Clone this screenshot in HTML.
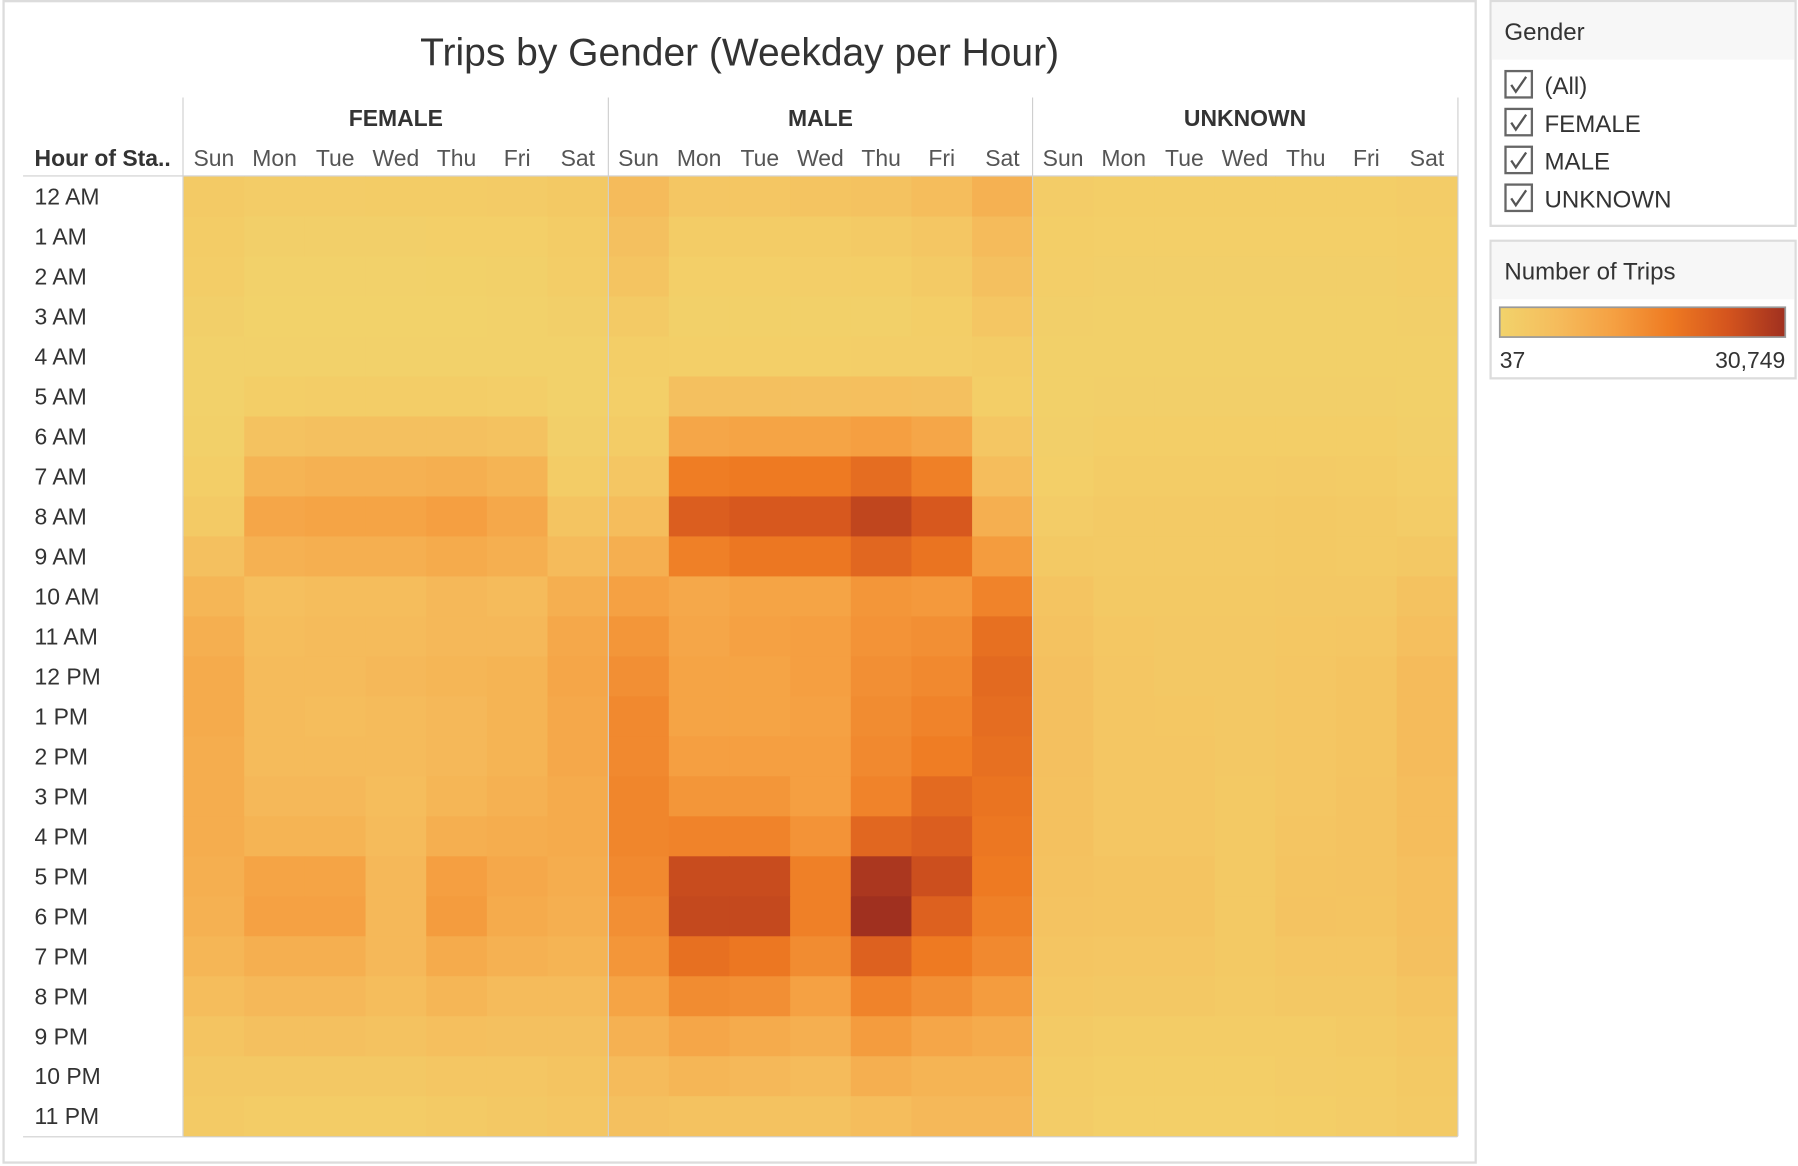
<!DOCTYPE html>
<html><head><meta charset="utf-8"><style>
html,body{margin:0;padding:0;background:#fff;}
svg{display:block;font-family:"Liberation Sans",sans-serif;}
</style></head><body>
<svg id="chart" width="1798" height="1166" viewBox="0 0 1568 1017" xmlns="http://www.w3.org/2000/svg">
<rect x="0" y="0" width="1568" height="1017" fill="#fff"/>
<rect x="3" y="1" width="1284" height="1013" fill="#fff" stroke="#dcdcdc" stroke-width="2"/>
<text x="645" y="57" text-anchor="middle" font-size="34" fill="#333">Trips by Gender (Weekday per Hour)</text>
<text x="30" y="145" font-size="20" font-weight="bold" fill="#333">Hour of Sta..</text>
<g id="cells"></g>
<g id="labels"></g>
<line x1="20" y1="153.5" x2="1271" y2="153.5" stroke="#cfcfcf"/>
<line x1="20" y1="991.5" x2="1271" y2="991.5" stroke="#cfcfcf"/>
<line x1="159.5" y1="85" x2="159.5" y2="991" stroke="#cfcfcf"/>
<line x1="530.5" y1="85" x2="530.5" y2="991" stroke="#cfcfcf"/>
<line x1="900.5" y1="85" x2="900.5" y2="991" stroke="#cfcfcf"/>
<line x1="1271.5" y1="85" x2="1271.5" y2="991" stroke="#cfcfcf"/>

<g>
<rect x="1300" y="1" width="266" height="196" fill="#fff" stroke="#dcdcdc" stroke-width="2"/>
<rect x="1301" y="2" width="264" height="50" fill="#f7f7f7"/>
<text x="1312" y="35" font-size="21" fill="#333">Gender</text>
<g><rect x="1313" y="62" width="23" height="23" fill="#fff" stroke="#666" stroke-width="2"/><path d="M1318 74 l4 6 l9 -13" fill="none" stroke="#555" stroke-width="2"/><text x="1347" y="82" font-size="21" fill="#333">(All)</text></g>
<g><rect x="1313" y="95" width="23" height="23" fill="#fff" stroke="#666" stroke-width="2"/><path d="M1318 107 l4 6 l9 -13" fill="none" stroke="#555" stroke-width="2"/><text x="1347" y="115" font-size="21" fill="#333">FEMALE</text></g>
<g><rect x="1313" y="128" width="23" height="23" fill="#fff" stroke="#666" stroke-width="2"/><path d="M1318 140 l4 6 l9 -13" fill="none" stroke="#555" stroke-width="2"/><text x="1347" y="148" font-size="21" fill="#333">MALE</text></g>
<g><rect x="1313" y="161" width="23" height="23" fill="#fff" stroke="#666" stroke-width="2"/><path d="M1318 173 l4 6 l9 -13" fill="none" stroke="#555" stroke-width="2"/><text x="1347" y="181" font-size="21" fill="#333">UNKNOWN</text></g>
</g>

<g>
<defs><linearGradient id="grad" x1="0" x2="1" y1="0" y2="0">
<stop offset="0" stop-color="#f2d36b"/><stop offset="0.2" stop-color="#f5bc5c"/><stop offset="0.4" stop-color="#f5a042"/><stop offset="0.6" stop-color="#ee7a22"/><stop offset="0.8" stop-color="#d4541e"/><stop offset="1" stop-color="#a0301f"/>
</linearGradient></defs>
<rect x="1300" y="210" width="266" height="120" fill="#fff" stroke="#dcdcdc" stroke-width="2"/>
<rect x="1301" y="211" width="264" height="50" fill="#f7f7f7"/>
<text x="1312" y="244" font-size="21" fill="#333">Number of Trips</text>
<rect x="1308" y="268" width="249" height="26" fill="url(#grad)" stroke="#999" stroke-width="1.5"/>
<text x="1308" y="321" font-size="20" fill="#333">37</text>
<text x="1557" y="321" font-size="20" fill="#333" text-anchor="end">30,749</text>
</g>
</svg>
<script>
const genders = ["FEMALE","MALE","UNKNOWN"];
const days = ["Sun","Mon","Tue","Wed","Thu","Fri","Sat"];
const hours = ["12 AM","1 AM","2 AM","3 AM","4 AM","5 AM","6 AM","7 AM","8 AM","9 AM","10 AM","11 AM","12 PM","1 PM","2 PM","3 PM","4 PM","5 PM","6 PM","7 PM","8 PM","9 PM","10 PM","11 PM"];
const femaleTrips = [
[2500,1800,1800,2000,2000,2200,2800],[2000,1000,1000,1000,1100,1200,2000],[1600,600,600,600,700,800,1600],[1000,400,400,400,400,500,1000],
[600,500,500,500,500,500,600],[500,1500,1600,1600,1600,1400,500],[800,4500,5000,5000,5000,4500,1000],[1500,8000,8500,8500,9000,8000,2000],
[2500,11000,11500,11500,12500,10500,4000],[5000,8500,9000,9000,10000,9000,6500],[7500,5500,6000,6000,7000,6500,9000],[9000,6000,6500,6500,7000,7000,10500],
[10000,6500,6500,7000,7500,8000,11000],[10000,6500,6000,6500,7000,8000,10500],[9500,6500,6500,6500,7000,8000,10500],[9500,7000,7000,6000,7500,8500,10000],
[9500,8000,8000,6500,9000,9500,10000],[9000,11500,11500,7000,12500,10500,9500],[8500,12000,12000,7000,13000,10000,9000],[7500,9000,9000,7000,10000,8500,8000],
[6000,7000,7000,6000,7500,6500,6500],[4000,5000,5000,4500,5500,5000,5000],[3000,3000,3000,3000,3500,3500,4000],[2500,2000,2000,2000,2500,3000,3500]];
const maleTrips = [
[6500,3500,3500,4000,4500,6000,8500],[5000,2000,2000,2000,2500,3500,6500],[4000,1200,1200,1300,1500,2500,5000],[2500,800,800,800,900,1500,3500],
[1500,1200,1200,1200,1300,1400,2000],[1200,5000,5000,5000,5500,5000,1500],[2000,11000,11500,11500,12500,11000,3500],[3500,18000,18500,18500,20500,17500,6000],
[6000,23000,24000,24000,27000,24000,9000],[9000,17500,19000,19000,21500,19500,13000],[12000,10500,11500,11500,14000,13500,17000],[14000,11000,12000,12500,14500,15000,20000],
[15000,11500,11500,12500,15000,16000,21000],[16000,11500,11500,12000,15500,17000,20500],[16000,12500,12500,12500,16000,18000,20000],[16500,14000,14000,12500,17000,21000,19500],
[16500,17000,17000,14500,21500,23000,19000],[16000,26000,26000,17500,29500,25500,18500],[15000,26500,26500,17500,30749,22500,17500],[14000,20000,19000,15500,22500,18500,16000],
[11500,15500,15000,12000,17000,15000,13000],[8500,11000,10000,9000,13000,11000,10000],[6500,7500,7000,6500,9000,8000,8000],[5000,4500,4500,4500,6000,7000,7000]];
const unknownTrips = [
[1800,1500,1500,1500,1500,1500,1800],[1500,1200,1200,1200,1200,1200,1500],[1300,1000,1000,1000,1000,1000,1300],[1000,800,800,800,800,800,1000],
[800,800,800,800,800,800,800],[800,1000,1000,1000,1000,1000,800],[1000,1500,1500,1500,1500,1500,1000],[1200,2000,2000,2000,2200,2000,1300],
[1800,2500,2500,2500,2800,2500,1800],[2800,2500,2500,2500,2800,2500,3000],[4000,2800,2800,2700,3000,3000,4500],[4500,3200,3000,3000,3300,3500,5500],
[5000,3500,3000,3000,3500,4000,6500],[5000,3500,3300,3000,3500,4000,6500],[5000,3500,3500,3000,3500,4000,6500],[4800,3500,3500,2800,3500,4200,6000],
[4800,3500,3500,2800,3800,4200,6000],[4500,4000,4000,2800,4000,4200,5500],[4200,4000,4000,2800,4200,4000,5500],[3800,3500,3500,2800,3500,3500,5000],
[3200,3000,3000,2500,3000,3000,4000],[2500,2000,2000,2000,2000,2500,3200],[2000,1500,1500,1500,1800,2000,2800],[1800,1200,1200,1200,1500,1800,2500]];
const domainMin = 37, domainMax = 30749;

const NS="http://www.w3.org/2000/svg";
const X0=160, PANEL_W=370.33, Y0=154, Y1=991;
const colW = PANEL_W/7, rowH=(Y1-Y0)/hours.length;
const stops=[[0,[242,211,107]],[0.2,[245,188,92]],[0.4,[245,160,66]],[0.6,[238,122,34]],[0.8,[212,84,30]],[1,[160,48,31]]];
function color(v){
  let t=Math.max(0,Math.min(1,(v-domainMin)/(domainMax-domainMin)));
  for(let i=1;i<stops.length;i++){
    if(t<=stops[i][0]){const a=stops[i-1],b=stops[i];const f=(t-a[0])/(b[0]-a[0]);
      return "rgb("+a[1].map((c,k)=>Math.round(c+(b[1][k]-c)*f)).join(",")+")";}
  }
  return "rgb(160,48,31)";
}
function xScale(g,d){return X0+g*PANEL_W+d*colW;}
function yScale(h){return Y0+h*rowH;}
const cells=document.getElementById("cells"), labels=document.getElementById("labels");
const series=[femaleTrips,maleTrips,unknownTrips];
series.forEach((data,g)=>{
  data.forEach((row,h)=>{
    row.forEach((v,d)=>{
      const r=document.createElementNS(NS,"rect");
      r.setAttribute("x",xScale(g,d));r.setAttribute("y",yScale(h));
      r.setAttribute("width",colW+0.5);r.setAttribute("height",rowH+0.5);
      r.setAttribute("fill",color(v));
      
      
      cells.appendChild(r);
    });
  });
});
function txt(x,y,s,size,anchor,weight,fill){
  const t=document.createElementNS(NS,"text");
  t.setAttribute("x",x);t.setAttribute("y",y);t.setAttribute("font-size",size);
  t.setAttribute("text-anchor",anchor);if(weight)t.setAttribute("font-weight",weight);
  t.setAttribute("fill",fill||"#333");t.textContent=s;labels.appendChild(t);return t;
}
genders.forEach((gname,g)=>{
  const t=txt(X0+g*PANEL_W+PANEL_W/2,110,gname,20,"middle","bold");
  
  
  days.forEach((dn,d)=>{
    const u=txt(xScale(g,d)+colW/2,145,dn,20,"middle",null,"#555");
    
    
  });
});
hours.forEach((hn,h)=>{
  const t=txt(30,yScale(h)+rowH/2+7,hn,20,"start",null,"#333");
  
  
});
</script>
</body></html>
